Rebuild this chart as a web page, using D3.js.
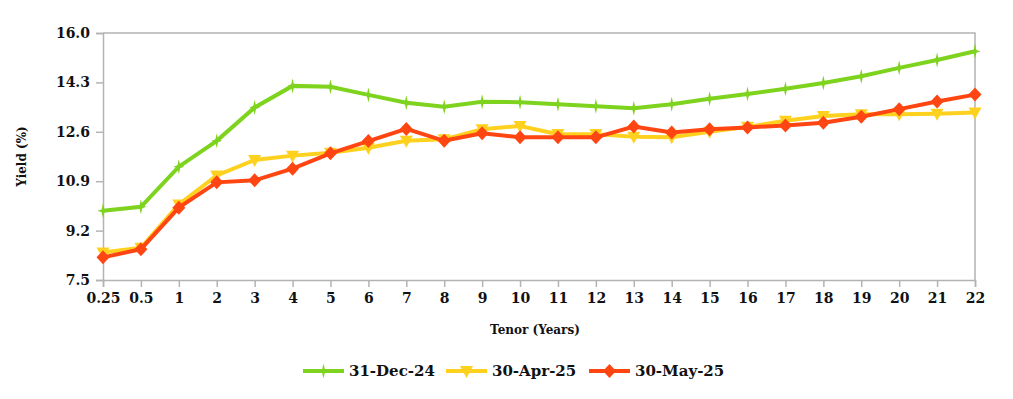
<!DOCTYPE html>
<html>
<head>
<meta charset="utf-8">
<script src="https://cdn.jsdelivr.net/npm/d3@7"></script>
<style>
  body { margin: 0; background: #fff; }
  svg text { font-family: "DejaVu Serif", serif; font-weight: bold; fill: #111; }
</style>
</head>
<body>
<div id="app"></div>
<script>
const tenors = ["0.25", "0.5", "1", "2", "3", "4", "5", "6", "7", "8", "9", "10", "11",
    "12", "13", "14", "15", "16", "17", "18", "19", "20", "21", "22"];
const yTicks = [7.5, 9.2, 10.9, 12.6, 14.3, 16.0];
const dec24 = [9.88, 10.02, 11.40, 12.29, 13.44, 14.18, 14.15, 13.87, 13.60, 13.46, 13.63, 13.62,
    13.55, 13.48, 13.41, 13.55, 13.74, 13.90, 14.08, 14.28, 14.51, 14.80, 15.07, 15.37];
const apr25 = [8.45, 8.61, 10.10, 11.10, 11.63, 11.78, 11.88, 12.05, 12.29, 12.34, 12.69, 12.80,
    12.52, 12.52, 12.43, 12.41, 12.60, 12.77, 12.98, 13.14, 13.20, 13.20, 13.22, 13.26];
const may25 = [8.28, 8.56, 9.99, 10.86, 10.93, 11.33, 11.86, 12.28, 12.70, 12.29, 12.55, 12.41,
    12.41, 12.41, 12.78, 12.58, 12.69, 12.75, 12.82, 12.91, 13.12, 13.38, 13.64, 13.88];
const seriesNames = ["31-Dec-24", "30-Apr-25", "30-May-25"];

function plotChart() {
    const svgWidth = 1013;
    const svgHeight = 399;
    const margin = { top: 33, right: 38, bottom: 119, left: 103 };
    const width = svgWidth - margin.left - margin.right;
    const height = svgHeight - margin.top - margin.bottom;
    const axisColor = "#b3b3b3";

    const svg = d3.select("#app").append("svg")
        .attr("width", svgWidth)
        .attr("height", svgHeight);

    const chart = svg.append("g")
        .attr("transform", "translate(" + margin.left + "," + margin.top + ")");

    const x = d3.scalePoint().domain(tenors).range([0, width]);
    const y = d3.scaleLinear().domain([7.5, 16.0]).range([height, 0]);

    // plot area border (top and right)
    chart.append("path")
        .attr("d", `M0,0H${width}V${height}`)
        .attr("fill", "none")
        .attr("stroke", axisColor)
        .attr("stroke-width", 1.5);

    const xAxis = chart.append("g")
        .attr("transform", "translate(0," + height + ")")
        .call(d3.axisBottom(x).tickSize(7).tickPadding(6));
    const yAxis = chart.append("g")
        .call(d3.axisLeft(y).tickValues(yTicks).tickFormat(d3.format(".1f")).tickSize(7).tickPadding(6));

    [xAxis, yAxis].forEach(function(g) {
        g.select(".domain").attr("stroke", axisColor).attr("stroke-width", 1.5);
        g.selectAll(".tick line").attr("stroke", axisColor).attr("stroke-width", 1.5);
        g.selectAll("text")
            .attr("fill", "#111")
            .style("font-family", "'DejaVu Serif', serif")
            .style("font-weight", "bold")
            .style("font-size", "14px");
    });

    svg.append("text")
        .attr("x", margin.left + width / 2 - 4)
        .attr("y", 334)
        .attr("text-anchor", "middle")
        .style("font-size", "12px")
        .text("Tenor (Years)");

    svg.append("text")
        .attr("transform", "translate(26," + (margin.top + height / 2) + ") rotate(-90)")
        .attr("text-anchor", "middle")
        .style("font-size", "12px")
        .text("Yield (%)");

    const star = "M0,-7.5L1.4,-1.4L5.5,0L1.4,1.4L0,7.5L-1.4,1.4L-5.5,0L-1.4,-1.4Z";
    const tri = "M-6.5,-5L6.5,-5L0,7Z";
    const diamond = "M0,-7L6.5,0L0,7L-6.5,0Z";

    const series = [
        { name: seriesNames[0], values: dec24, color: "#7ed31e", marker: star },
        { name: seriesNames[1], values: apr25, color: "#ffd11f", marker: tri },
        { name: seriesNames[2], values: may25, color: "#ff4511", marker: diamond }
    ];

    const line = d3.line()
        .x(function(d, i) { return x(tenors[i]); })
        .y(function(d) { return y(d); });

    series.forEach(function(s) {
        const g = chart.append("g");
        g.append("path")
            .datum(s.values)
            .attr("d", line)
            .attr("fill", "none")
            .attr("stroke", s.color)
            .attr("stroke-width", 4);
        g.selectAll(".marker")
            .data(s.values)
            .enter()
            .append("path")
            .attr("transform", function(d, i) {
                return "translate(" + x(tenors[i]) + "," + y(d) + ")";
            })
            .attr("d", s.marker)
            .attr("fill", s.color);
    });

    // legend
    const legendX = [303, 446, 589];
    const legend = svg.append("g").attr("transform", "translate(0,371)");
    series.forEach(function(s, i) {
        const g = legend.append("g").attr("transform", "translate(" + legendX[i] + ",0)");
        g.append("line")
            .attr("x1", 0).attr("x2", 41)
            .attr("stroke", s.color)
            .attr("stroke-width", 4);
        g.append("path")
            .attr("transform", "translate(20.5,0)")
            .attr("d", s.marker)
            .attr("fill", s.color);
        g.append("text")
            .attr("x", 46)
            .attr("dy", "0.35em")
            .style("font-size", "15px")
            .text(s.name);
    });
}

plotChart();
</script>
</body>
</html>
